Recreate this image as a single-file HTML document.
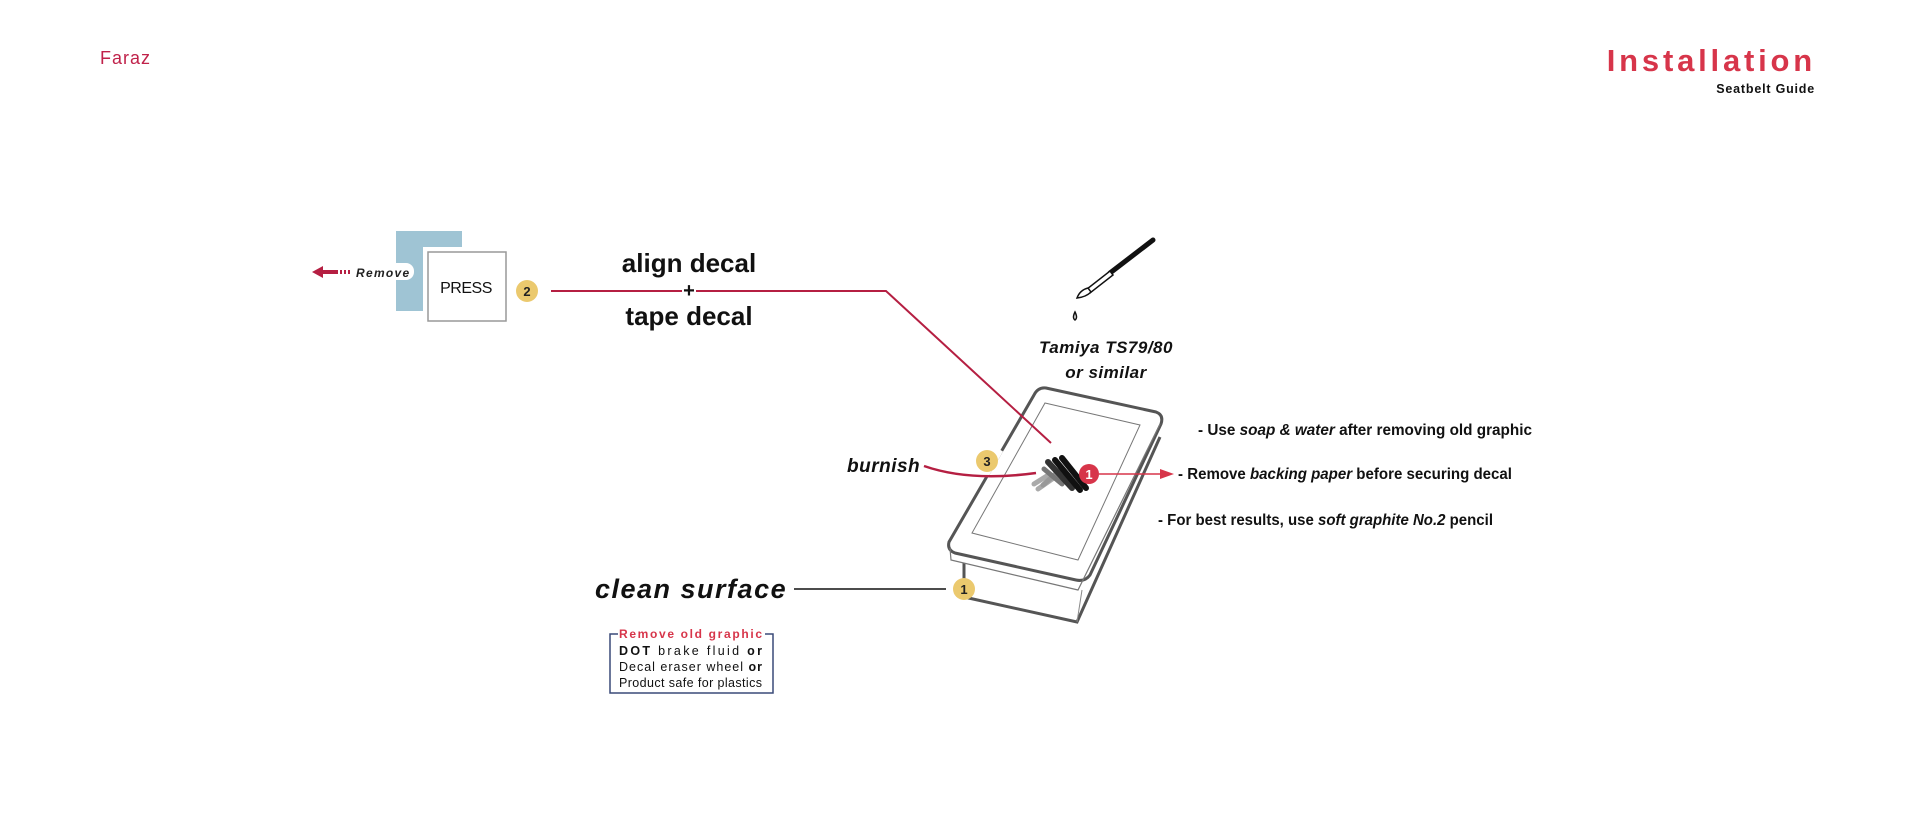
<!DOCTYPE html>
<html><head><meta charset="utf-8"><style>
html,body{margin:0;padding:0;background:#fff;}
body{width:1920px;height:823px;overflow:hidden;}
svg{display:block}
text{font-family:"Liberation Sans",sans-serif;}
</style></head><body>
<svg width="1920" height="823" viewBox="0 0 1920 823" xmlns="http://www.w3.org/2000/svg">
<!-- header -->
<text x="100" y="64" font-size="18" fill="#c0224a" letter-spacing="1">Faraz</text>
<text x="1816" y="71" font-size="31" font-weight="bold" fill="#d7354a" text-anchor="end" letter-spacing="3.8">Installation</text>
<text x="1815" y="93" font-size="12.5" font-weight="bold" fill="#111" text-anchor="end" letter-spacing="0.8">Seatbelt  Guide</text>

<!-- press / remove -->
<rect x="396" y="231" width="66" height="80" fill="#9fc4d4"/>
<rect x="423" y="247" width="88" height="79" fill="#fff"/>
<rect x="428" y="252" width="78" height="69" fill="#fff" stroke="#999" stroke-width="1.5"/>
<text x="466" y="293" font-size="16" text-anchor="middle" fill="#111" letter-spacing="-0.5">PRESS</text>
<rect x="352" y="263" width="62" height="17" rx="8" fill="#fff"/>
<text x="356" y="277" font-size="12" font-style="italic" font-weight="bold" fill="#222" letter-spacing="1.3">Remove</text>
<path d="M312 272 L323 266 L323 270 L338 270 L338 274 L323 274 L323 278 Z" fill="#b51f42"/>
<rect x="340" y="270" width="2" height="4" fill="#b51f42"/><rect x="344" y="270" width="2" height="4" fill="#b51f42"/><rect x="348" y="270" width="2" height="4" fill="#b51f42"/>

<circle cx="527" cy="291" r="11" fill="#ebc96e"/>
<text x="527" y="296" font-size="13" font-weight="bold" text-anchor="middle" fill="#222">2</text>
<polyline points="551,291 682,291" stroke="#b51f42" stroke-width="2" fill="none"/>
<text x="689" y="297" font-size="20" font-weight="bold" text-anchor="middle" fill="#111">+</text>
<text x="689" y="272" font-size="26" font-weight="bold" text-anchor="middle" fill="#111">align decal</text>
<text x="689" y="325" font-size="26" font-weight="bold" text-anchor="middle" fill="#111">tape  decal</text>

<!-- brush -->
<line x1="1153" y1="240" x2="1110" y2="273" stroke="#111" stroke-width="5" stroke-linecap="round"/>
<path d="M1110 271 L1113 275 L1090 293 L1087 289 Z" fill="#fff" stroke="#111" stroke-width="1.5"/>
<path d="M1088 288 Q1080 290 1077 298 Q1086 297 1091 292 Z" fill="#fff" stroke="#111" stroke-width="1.5"/>
<path d="M1075 312 Q1072 318 1075 320 Q1078 318 1075 312 Z" fill="#fff" stroke="#111" stroke-width="1.5"/>
<text x="1106" y="353" font-size="17" font-weight="bold" font-style="italic" text-anchor="middle" fill="#111" letter-spacing="0.5">Tamiya TS79/80</text>
<text x="1106" y="378" font-size="17" font-weight="bold" font-style="italic" text-anchor="middle" fill="#111" letter-spacing="0.5">or similar</text>

<!-- device -->
<path d="M964 563 L964 597 L1077 622 L1160 437" fill="none" stroke="#555" stroke-width="3"/>
<line x1="1077" y1="622" x2="1082" y2="590" stroke="#888" stroke-width="1"/>
<path d="M1046 388 L1156 412 Q1164 415 1161 424 L1090 575 Q1085 582 1076 580 L955 553 Q947 550 949 542 L1034 395 Q1038 387 1046 388 Z" fill="#fff" stroke="#555" stroke-width="3"/>
<path d="M950 548 L951 560 L1078 590 L1160 424" fill="none" stroke="#777" stroke-width="1.2"/>
<polygon points="1045,403 1140,425 1078,560 972,533" fill="none" stroke="#777" stroke-width="1"/>
<rect x="975" y="444" width="22" height="30" fill="#fff" transform="rotate(30 986 459)"/>
<polyline points="696,291 886,291 1051,443" stroke="#b51f42" stroke-width="2" fill="none"/>
<!-- scribbles -->
<g stroke-linecap="round" fill="none">
<line x1="1034" y1="484" x2="1050" y2="474" stroke="#aaa" stroke-width="5"/>
<line x1="1038" y1="489" x2="1058" y2="475" stroke="#aaa" stroke-width="5"/>
<line x1="1043" y1="485" x2="1060" y2="470" stroke="#999" stroke-width="5"/>
<line x1="1044" y1="469" x2="1062" y2="484" stroke="#777" stroke-width="5"/>
<line x1="1048" y1="462" x2="1072" y2="488" stroke="#333" stroke-width="6"/>
<line x1="1055" y1="460" x2="1080" y2="490" stroke="#111" stroke-width="6"/>
<line x1="1062" y1="458" x2="1086" y2="488" stroke="#111" stroke-width="6"/>
</g>
<circle cx="1089" cy="474" r="10" fill="#d7354a"/>
<text x="1089" y="479" font-size="13" font-weight="bold" text-anchor="middle" fill="#fff">1</text>
<line x1="1099" y1="474" x2="1162" y2="474" stroke="#d7354a" stroke-width="1.5"/>
<path d="M1160 469 L1174 474 L1160 479 Z" fill="#d7354a"/>

<!-- burnish -->
<text x="847" y="472" font-size="19" font-weight="bold" font-style="italic" fill="#111" letter-spacing="0.5">burnish</text>
<path d="M924 466 Q970 482 1036 473" fill="none" stroke="#b51f42" stroke-width="2.5"/>
<circle cx="987" cy="461" r="11" fill="#ebc96e"/>
<text x="987" y="466" font-size="13" font-weight="bold" text-anchor="middle" fill="#222">3</text>

<!-- notes -->
<g font-size="15.5" font-weight="bold" fill="#111">
<text x="1198" y="435" textLength="334" lengthAdjust="spacingAndGlyphs">- Use <tspan font-style="italic">soap &amp; water</tspan> after removing old graphic</text>
<text x="1178" y="479" textLength="334" lengthAdjust="spacingAndGlyphs">- Remove <tspan font-style="italic">backing paper</tspan> before securing decal</text>
<text x="1158" y="525" textLength="335" lengthAdjust="spacingAndGlyphs">- For best results, use <tspan font-style="italic">soft graphite No.2</tspan> pencil</text>
</g>

<!-- clean surface -->
<text x="595" y="598" font-size="27" font-weight="bold" font-style="italic" fill="#111" letter-spacing="1.5">clean  surface</text>
<line x1="794" y1="589" x2="946" y2="589" stroke="#111" stroke-width="1.5"/>
<circle cx="964" cy="589" r="11" fill="#ebc96e"/>
<text x="964" y="594" font-size="13" font-weight="bold" text-anchor="middle" fill="#222">1</text>

<path d="M618 634 L610 634 L610 693 L773 693 L773 634 L765 634" fill="none" stroke="#3a4a78" stroke-width="1.5"/>
<text x="619" y="638" font-size="12" font-weight="bold" fill="#d7354a" textLength="143" lengthAdjust="spacing">Remove  old  graphic</text>
<text x="619" y="655" font-size="12.5" fill="#111" textLength="143" lengthAdjust="spacing"><tspan font-weight="bold">DOT</tspan> brake fluid <tspan font-weight="bold">or</tspan></text>
<text x="619" y="671" font-size="12.5" fill="#111" textLength="143" lengthAdjust="spacing">Decal eraser wheel <tspan font-weight="bold">or</tspan></text>
<text x="619" y="687" font-size="12.5" fill="#111" textLength="143" lengthAdjust="spacing">Product safe for plastics</text>
</svg>
</body></html>
